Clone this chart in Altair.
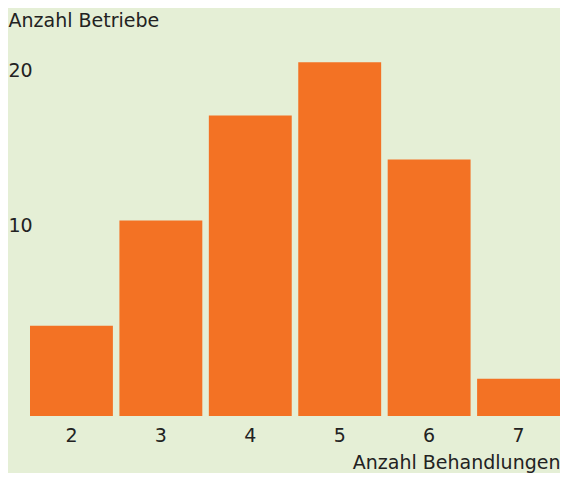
import altair as alt
import pandas as pd

behandlungen = ["2", "3", "4", "5", "6", "7"]
betriebe = [5.1, 11.05, 17.0, 20.0, 14.5, 2.1]
y_ticks = [10, 20]

df = pd.DataFrame({"Behandlungen": behandlungen, "Betriebe": betriebe})

FONT = "DejaVu Sans"
TEXT = "#222222"

chart = (
    alt.Chart(df)
    .mark_bar(color="#f37224")
    .encode(
        x=alt.X(
            "Behandlungen:N",
            sort=behandlungen,
            scale=alt.Scale(paddingInner=0.073, paddingOuter=0),
            axis=alt.Axis(
                title="Anzahl Behandlungen",
                labelAngle=0,
                ticks=False,
                domain=False,
                labelPadding=10,
                labelFont=FONT,
                labelFontSize=19,
                labelColor=TEXT,
                titleFont=FONT,
                titleFontSize=19,
                titleFontWeight="normal",
                titleColor=TEXT,
                titleAlign="right",
                titleBaseline="alphabetic",
                titleX=530,
                titleY=52,
            ),
        ),
        y=alt.Y(
            "Betriebe:Q",
            scale=alt.Scale(domain=[0, 22], nice=False),
            axis=alt.Axis(
                title="Anzahl Betriebe",
                values=y_ticks,
                grid=False,
                ticks=False,
                domain=False,
                labelAlign="left",
                labelBaseline="middle",
                labelPadding=22,
                labelOffset={"condition": {"test": "datum.value == 10", "value": -14}, "value": 8},
                labelFont=FONT,
                labelFontSize=19,
                labelColor=TEXT,
                titleFont=FONT,
                titleFontSize=19,
                titleFontWeight="normal",
                titleColor=TEXT,
                titleAngle=0,
                titleAlign="left",
                titleBaseline="alphabetic",
                titleX=-22,
                titleY=-1,
            ),
        ),
    )
    .properties(
        width=530,
        height=389,
        background="#e5efd6",
        padding={"left": 22, "top": 19, "right": 0, "bottom": 57},
        autosize=alt.AutoSizeParams(type="none"),
    )
    .configure_view(stroke=None)
)

chart.save("out.html", embed_options={"renderer": "svg", "actions": False})
